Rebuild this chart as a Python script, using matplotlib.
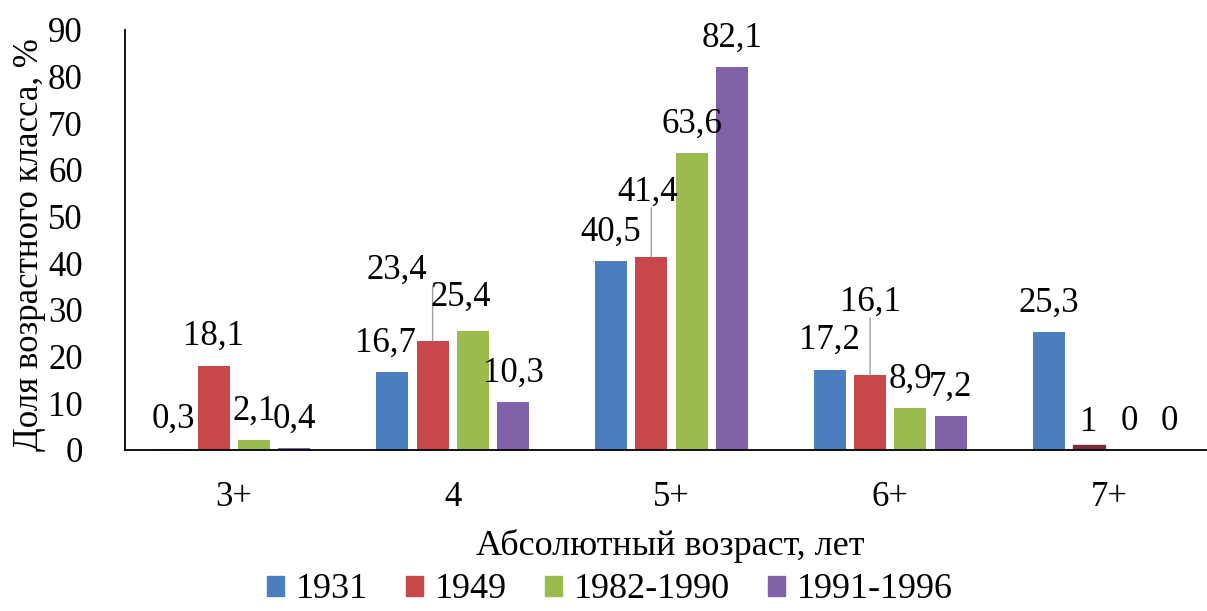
import numpy as np
import matplotlib.pyplot as plt
from matplotlib.patches import Patch

plt.rcParams['font.family'] = ['Liberation Serif', 'DejaVu Serif']

ages = ['3+', '4', '5+', '6+', '7+']
years = ['1931', '1949', '1982-1990', '1991-1996']
s1931 = [0.3, 16.7, 40.5, 17.2, 25.3]
s1949 = [18.1, 23.4, 41.4, 16.1, 1]
s1982 = [2.1, 25.4, 63.6, 8.9, 0]
s1991 = [0.4, 10.3, 82.1, 7.2, 0]
series = [s1931, s1949, s1982, s1991]

colors = ['#4a7ebf', '#c8474a', '#9bbb4f', '#7f62a8']

# label offsets in pixels (dx, dy) from bar top; leader line for moved labels
label_shift = {(1, 1): (-36, 71), (0, 1): (-7, 29), (2, 1): (-12, 34),
               (1, 2): (-4, 65), (1, 3): (0, 73), (1, 4): (0, 23)}
leaders = [(1, 1), (1, 2), (1, 3)]

fig = plt.figure(figsize=(12.07, 6.11), dpi=100)
ax = fig.add_axes([124.6 / 1207, 161 / 611, 1 - 124.6 / 1207, 420 / 611])

x = np.arange(len(ages))
slot = 0.184
width = 0.147
for i, vals in enumerate(series):
    pos = x + (i - 1.5) * slot
    bars = ax.bar(pos, vals, width, color=colors[i], zorder=2)
    if i == 1:
        bars[4].set_color('#7a2c3c')
    for j, (p, v) in enumerate(zip(pos, vals)):
        dx, dy = label_shift.get((i, j), (0, 29))
        txt = f'{v:g}'.replace('.', ',')
        ax.annotate(txt, (p, v), xytext=(dx, dy), textcoords='offset pixels',
                    ha='center', va='center', fontsize=25)
        if (i, j) in leaders:
            ax.annotate('', (p, v), xytext=(0, dy - 16), textcoords='offset pixels',
                        arrowprops=dict(arrowstyle='-', color='#a0a0a0', lw=1,
                                        shrinkA=0, shrinkB=0))

ax.set_xlim(-0.5, 4.448)
ax.set_ylim(0, 90)
ax.set_yticks(range(0, 91, 10))
ax.set_xticks(x)
ax.set_xticklabels(ages)
ax.tick_params(axis='both', length=0, labelsize=25)
ax.tick_params(axis='y', pad=30)
ax.tick_params(axis='x', pad=22)
for side in ['top', 'right']:
    ax.spines[side].set_visible(False)
ax.spines['left'].set_linewidth(1.3)
ax.spines['bottom'].set_linewidth(1.3)

fig.text(30 / 1207, 1 - 245 / 611, 'Доля возрастного класса, %', rotation=90,
         ha='center', va='center', fontsize=25)
fig.text(670 / 1207, 1 - 546 / 611, 'Абсолютный возраст, лет',
         ha='center', va='center', fontsize=26)

handles = [Patch(color=c) for c in colors]
fig.legend(handles, years, loc='center', bbox_to_anchor=(610 / 1207, 1 - 590 / 611),
           ncol=4, frameon=False, fontsize=26, handlelength=0.47, handleheight=0.47,
           handletextpad=0.33, columnspacing=1.05, borderpad=0)

fig.savefig('out.png', dpi=100)
